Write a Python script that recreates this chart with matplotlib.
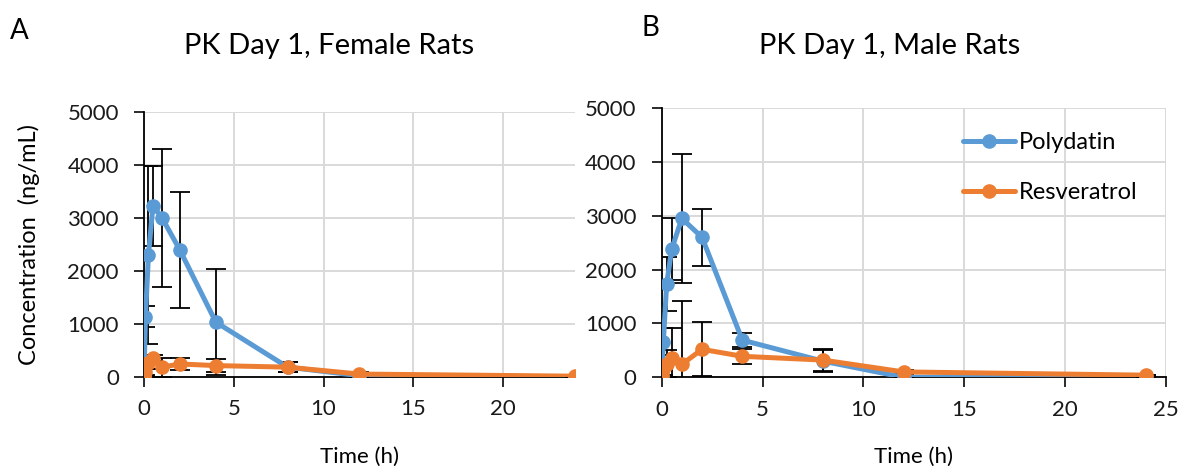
import matplotlib.pyplot as plt
import numpy as np

plt.rcParams['font.family'] = ['Lato', 'DejaVu Sans']

# sampling times (h)
t = [0, 0.083, 0.25, 0.5, 1, 2, 4, 8, 12, 24]

# female rats, mean and SD (ng/mL)
fem_poly = [0, 1130, 2300, 3220, 3000, 2390, 1030, 180, 20, 0]
fem_poly_sd = [0, 200, 1680, 750, 1300, 1100, 1000, 90, 20, 0]
fem_res = [20, 90, 250, 350, 180, 240, 210, 180, 50, 10]
fem_res_sd = [0, 60, 100, 60, 180, 120, 120, 90, 30, 0]

# male rats
male_poly = [0, 660, 1740, 2380, 2950, 2600, 690, 300, 0, 0]
male_poly_sd = [0, 250, 500, 580, 1200, 530, 130, 200, 0, 0]
male_res = [40, 150, 250, 350, 240, 520, 390, 320, 100, 40]
male_res_sd = [0, 100, 250, 560, 1170, 500, 140, 200, 30, 0]

blue = '#5B9BD5'
orange = '#ED7D31'

fig = plt.figure(figsize=(11.83, 4.71), dpi=100)
axA = fig.add_axes([0.1217, 0.2002, 0.3643, 0.5626])
axB = fig.add_axes([0.5593, 0.1989, 0.4263, 0.5718])


def draw(ax, poly, poly_sd, res, res_sd, xmax):
    for y, sd, c, lab in [(poly, poly_sd, blue, 'Polydatin'),
                          (res, res_sd, orange, 'Resveratrol')]:
        ax.errorbar(t, y, yerr=sd, fmt='none', ecolor='black', elinewidth=1.3,
                    capsize=7, capthick=1.3, zorder=2)
        ax.plot(t, y, color=c, lw=3.6, marker='o', ms=9.5, label=lab, zorder=3,
                solid_capstyle='round', solid_joinstyle='round')
    ax.set_xlim(0, xmax)
    ax.set_ylim(0, 5000)
    ax.set_yticks([0, 1000, 2000, 3000, 4000, 5000])
    ax.set_xticks(np.arange(0, xmax + 1, 5))
    ax.grid(True, color='#D9D9D9', lw=1.4)
    ax.set_axisbelow(True)
    for s in ['top', 'right']:
        ax.spines[s].set_visible(False)
    for s in ['left', 'bottom']:
        ax.spines[s].set_linewidth(1.3)
        ax.spines[s].set_zorder(1.5)
    ax.tick_params(axis='both', labelsize=16, width=1.3, length=7,
                   colors='#1a1a1a')
    ax.tick_params(axis='y', pad=11)
    ax.tick_params(axis='x', pad=9)
    ax.set_xlabel('Time (h)', fontsize=16, labelpad=20)


draw(axA, fem_poly, fem_poly_sd, fem_res, fem_res_sd, 24)
draw(axB, male_poly, male_poly_sd, male_res, male_res_sd, 25)

axA.set_ylabel('Concentration  (ng/mL)', fontsize=17, labelpad=20)

axB.legend(loc='upper right', bbox_to_anchor=(0.985, 0.99), frameon=False,
           fontsize=17, labelspacing=1.25, handlelength=2.2, handletextpad=0.15)

fig.text(0.278, 0.902, 'PK Day 1, Female Rats', fontsize=21, ha='center', va='center')
fig.text(0.752, 0.902, 'PK Day 1, Male Rats', fontsize=21, ha='center', va='center')
fig.text(0.016, 0.935, 'A', fontsize=20, ha='center', va='center')
fig.text(0.55, 0.94, 'B', fontsize=20, ha='center', va='center')

fig.savefig('out.png', dpi=100)
